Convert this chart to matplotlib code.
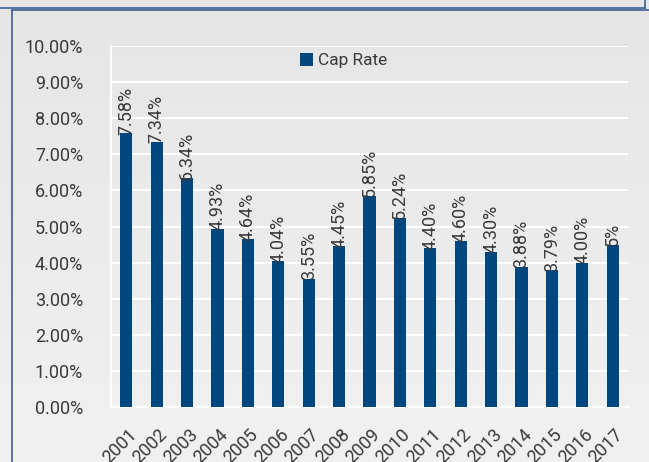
import matplotlib.pyplot as plt
from matplotlib.lines import Line2D
import numpy as np

years = ["2001", "2002", "2003", "2004", "2005", "2006", "2007", "2008", "2009",
         "2010", "2011", "2012", "2013", "2014", "2015", "2016", "2017"]
cap_rate = [7.58, 7.34, 6.34, 4.93, 4.64, 4.04, 3.55, 4.45, 5.85,
            5.24, 4.40, 4.60, 4.30, 3.88, 3.79, 4.00, 4.50]
bar_labels = ["7.58%", "7.34%", "6.34%", "4.93%", "4.64%", "4.04%", "3.55%", "4.45%", "5.85%",
              "5.24%", "4.40%", "4.60%", "4.30%", "3.88%", "3.79%", "4.00%", "5%"]
y_ticks = [0, 1, 2, 3, 4, 5, 6, 7, 8, 9, 10]

plt.rcParams['font.family'] = ['Roboto', 'DejaVu Sans']
txt = "#3a3a3a"
bar_color = "#00467f"
frame_color = "#3d5f94"

fig = plt.figure(figsize=(6.49, 4.62), dpi=100, facecolor="#ebebeb")

# soft vertical gradient background
grad = np.linspace(0, 1, 256).reshape(-1, 1)
bg = fig.add_axes([0, 0, 1, 1], zorder=-10)
bg.imshow(np.dstack([0.90 + 0.045 * grad] * 3), aspect="auto", extent=[0, 1, 0, 1], origin="upper")
bg.axis("off")

# outer frames
fig.add_artist(Line2D([0, 645 / 649], [1 - 8 / 462, 1 - 8 / 462], color=frame_color, lw=1.2))
fig.add_artist(Line2D([645 / 649, 645 / 649], [1 - 8 / 462, 1], color=frame_color, lw=1.2))
fig.add_artist(Line2D([12 / 649, 1], [1 - 10 / 462, 1 - 10 / 462], color=frame_color, lw=1.2))
fig.add_artist(Line2D([12 / 649, 12 / 649], [0, 1 - 10 / 462], color=frame_color, lw=1.2))

ax = fig.add_axes([111 / 649, 55 / 462, 517 / 649, 361 / 462])
ax.set_facecolor("none")
x = np.arange(len(years))
ax.bar(x, cap_rate, width=0.4, color=bar_color, label="Cap Rate", zorder=3)

for xi, v, lab in zip(x, cap_rate, bar_labels):
    ax.annotate(lab, (xi, v), xytext=(0, -1), textcoords="offset points",
                rotation=90, ha="center", va="bottom", fontsize=13, color=txt, zorder=4)

# year labels drawn under the axis, rotated
for xi, yr in zip(x, years):
    ax.annotate(yr, (xi, 0), xycoords=("data", "axes fraction"), xytext=(1, -13),
                textcoords="offset points", rotation=45, ha="right", va="top",
                rotation_mode="anchor", fontsize=13, color=txt, annotation_clip=False)

ax.set_xlim(-0.5, len(years) - 0.5)
ax.set_ylim(0, 10)
ax.set_yticks(y_ticks)
ax.set_yticklabels([f"{t:.2f}%" for t in y_ticks], fontsize=13, color=txt)
ax.set_xticks(x)
ax.set_xticklabels([])
ax.tick_params(axis="y", length=0, pad=20)
ax.tick_params(axis="x", length=0)
ax.grid(axis="y", color="white", lw=1.5, zorder=0)
for s in ["top", "right"]:
    ax.spines[s].set_visible(False)
for s in ["left", "bottom"]:
    ax.spines[s].set_color("white")
    ax.spines[s].set_linewidth(1.5)

ax.legend(loc="upper left", bbox_to_anchor=(0.358, 0.99), frameon=False, fontsize=12.5,
          handlelength=0.75, handleheight=0.75, handletextpad=0.3, borderpad=0, borderaxespad=0.2,
          labelcolor=txt)

fig.savefig("out.png", dpi=100, facecolor=fig.get_facecolor())
